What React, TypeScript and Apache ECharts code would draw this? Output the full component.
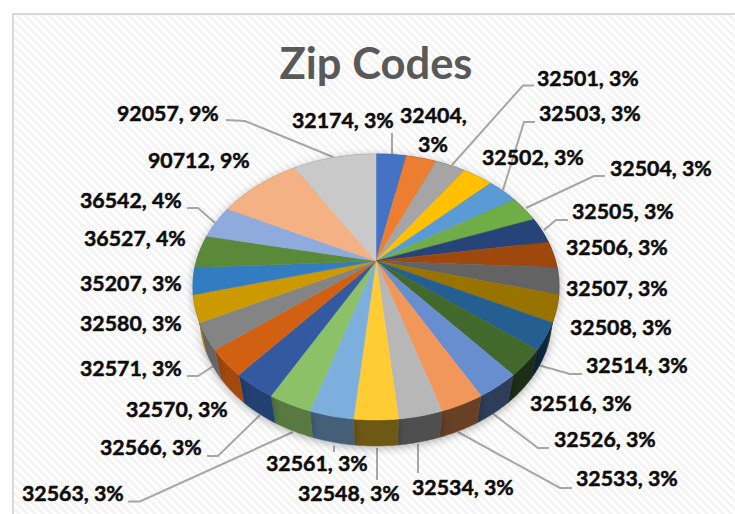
import React, { useEffect, useRef } from "react";
import * as echarts from "echarts";

const zipCodes = ["32174","32404","32501","32502","32503","32504","32505","32506","32507","32508","32514","32516","32526","32533","32534","32548","32561","32563","32566","32570","32571","32580","35207","36527","36542","90712","92057"];
const counts = [4,4,4,4,4,4,4,4,4,4,4,4,4,4,4,4,4,4,4,4,4,4,4,5,5,11,11];
const percentLabels = ["3%","3%","3%","3%","3%","3%","3%","3%","3%","3%","3%","3%","3%","3%","3%","3%","3%","3%","3%","3%","3%","3%","3%","4%","4%","9%","9%"];
const colors = ["#4472C4","#ED7D31","#A5A5A5","#FFC000","#5B9BD5","#70AD47","#264478","#9E480E","#636363","#997300","#255E91","#43682B","#698ED0","#F1975A","#B7B7B7","#FFCD33","#7CAFDD","#8CC168","#335AA1","#D26012","#848484","#CC9A00","#327DC2","#5A8A39","#8FAADC","#F4B183","#C9C9C9"];

// Label placement: [left x, centre y]
const labelPos: [number, number][] = [
  [292,120],[400,115],[537,78],[482,157],[539,113],[610,168],[572,211],[566,247],[566,288],[570,327],[586,365],[530,403],[554,439],[576,478],[412,487],[298,493],[266,463],[22,493],[100,447],[126,409],[80,368],[80,323],[80,283],[84,238],[80,200],[148,160],[117,113],
];
const leaderLines: number[][][] = [
  [[392,154],[392,133]],
  [[452,165],[523,85.5],[534,85.5]],
  [[503,190],[524,122],[535,122]],
  [[526,208],[594,176],[605,176]],
  [[544,230],[556,220],[568,220]],
  [[538,365],[570,374],[582,374]],
  [[492,413],[538,448],[549,448]],
  [[458,432],[560,488],[572,488]],
  [[418,444],[418,473]],
  [[377,448],[377,480]],
  [[334,446],[334,452]],
  [[293,432],[140,501.5],[128,501.5]],
  [[260,415],[218,456],[207,456]],
  [[215,365],[198,376],[187,376]],
  [[215,223],[198,208],[187,208]],
  [[333,157],[245,121],[226,120]],
];

const APEX = { x: 376, y: 261 };
const K = 0.1955, A = 179.5, B = 127.9;
const ELL = { cy: 287, rx: 183, ry: 133 };
const BOT = { cy: 318, rx: 176, ry: 128 };

function topPoint(theta: number): number[] {
  // theta clockwise from 12 o'clock, projected with perspective
  const X = Math.sin(theta), Y = -Math.cos(theta);
  const d = 1 - K * Y;
  return [APEX.x + (A * X) / d, APEX.y + (B * Y) / d];
}
function bottomPoint(p: number[]): number[] {
  return [APEX.x + ((p[0] - APEX.x) * BOT.rx) / ELL.rx, BOT.cy + ((p[1] - ELL.cy) * BOT.ry) / ELL.ry];
}
function shade(hex: string, f: number): string {
  const n = parseInt(hex.slice(1), 16);
  const c = [(n >> 16) & 255, (n >> 8) & 255, n & 255].map((v) => Math.round(v * f));
  return `rgb(${c[0]},${c[1]},${c[2]})`;
}
const total = counts.reduce((a, b) => a + b, 0);
function sliceAngles(i: number): [number, number] {
  let s = 0;
  for (let j = 0; j < i; j++) s += counts[j];
  return [(s / total) * Math.PI * 2, ((s + counts[i]) / total) * Math.PI * 2];
}
function arc(i: number): number[][] {
  const [a0, a1] = sliceAngles(i);
  const pts: number[][] = [];
  const n = 16;
  for (let k = 0; k <= n; k++) pts.push(topPoint(a0 + ((a1 - a0) * k) / n));
  return pts;
}

function makeTile(): HTMLCanvasElement {
  const c = document.createElement("canvas");
  c.width = 8;
  c.height = 8;
  const g = c.getContext("2d")!;
  g.fillStyle = "#ffffff";
  g.fillRect(0, 0, 8, 8);
  g.fillStyle = "#f4f4f4";
  for (let x = 0; x < 8; x++)
    for (let y = 0; y < 8; y++) if (((x - y + 16) % 8) < 4) g.fillRect(x, y, 1, 1);
  return c;
}

export default function App() {
  const ref = useRef<HTMLDivElement>(null);
  useEffect(() => {
    const chart = echarts.init(ref.current!, undefined, { renderer: "svg" });
    const font = "Lato";
    const labelStyle = { font: `bold 21.3px ${font}`, fill: "#0d0d0d", stroke: "#0d0d0d", lineWidth: 0.5, textVerticalAlign: "middle" };
    const data = counts.map((v, i) => ({ value: v, name: zipCodes[i] }));
    const texts: any[] = [];
    zipCodes.forEach((z, i) => {
      const [x, y] = labelPos[i];
      if (z === "32404") {
        texts.push({ type: "text", z: 10, style: { ...labelStyle, text: `${z},`, x, y } });
        texts.push({ type: "text", z: 10, style: { ...labelStyle, text: percentLabels[i], x: 433, y: y + 29, textAlign: "center" } });
      } else {
        texts.push({ type: "text", z: 10, style: { ...labelStyle, text: `${z}, ${percentLabels[i]}`, x, y } });
      }
    });
    chart.setOption({
      animation: false,
      backgroundColor: "#ffffff",
      title: {
        text: "Zip Codes",
        left: 371,
        top: 35,
        textAlign: "center",
        textStyle: { fontFamily: font, fontWeight: "bold", fontSize: 43.5, color: "#595959" },
      },
      graphic: [
        { type: "rect", z: -10, shape: { x: 13, y: 14, width: 740, height: 520 }, style: { fill: { image: makeTile(), repeat: "repeat" } as any, stroke: "#d9d9d9", lineWidth: 2 } },
        ...leaderLines.map((pts) => ({ type: "polyline", z: 1, shape: { points: pts }, style: { fill: "none", stroke: "#a6a6a6", lineWidth: 2 } })),
        ...texts,
      ],
      series: [
        {
          type: "custom",
          coordinateSystem: "none",
          z: 2,
          data,
          renderItem: (params: any) => {
            const i = params.dataIndex;
            const top = arc(i);
            const bot = top.map(bottomPoint).reverse();
            const mx = top[8][0];
            const f = mx < APEX.x ? 0.45 + 0.32 * Math.min(1, (APEX.x - mx) / 150) : 0.43;
            return {
              type: "polygon",
              shape: { points: top.concat(bot) },
              style: { fill: shade(colors[i], f), stroke: shade(colors[i], f), lineWidth: 0.5, shadowBlur: 8, shadowColor: "rgba(0,0,0,0.3)", shadowOffsetY: 2 },
            };
          },
        },
        {
          type: "custom",
          coordinateSystem: "none",
          z: 3,
          data,
          renderItem: (params: any) => {
            const i = params.dataIndex;
            return {
              type: "polygon",
              shape: { points: [[APEX.x, APEX.y], ...arc(i)] },
              style: { fill: colors[i], stroke: colors[i], lineWidth: 0.5 },
            };
          },
        },
      ],
    });
    return () => chart.dispose();
  }, []);
  return <div ref={ref} style={{ position: "fixed", left: 0, top: 0, width: 735, height: 514 }} />;
}
